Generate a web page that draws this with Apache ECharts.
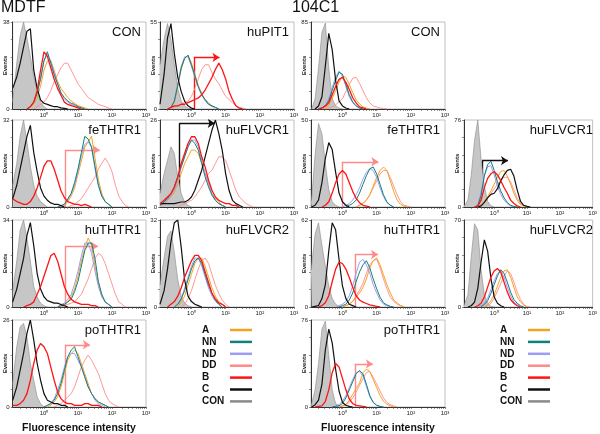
<!DOCTYPE html>
<html><head><meta charset="utf-8">
<script src="https://cdn.jsdelivr.net/npm/echarts@6/dist/echarts.min.js"></script>
<style>html,body{margin:0;padding:0;background:#fff}#c{width:600px;height:434px}</style>
</head><body><div id="c"></div>
<script>
// x values are log10(fluorescence intensity); y values are event counts
const X_LABEL_VALUES = [0, 1, 2, 3];
const X_LABELS = ['10⁰', '10¹', '10²', '10³'];
const SERIES_NAMES = ['A', 'NN', 'ND', 'DD', 'B', 'C', 'CON'];
const PANEL_TITLES = ['CON','huPIT1','CON','feTHTR1','huFLVCR1','feTHTR1','huFLVCR1','huTHTR1','huFLVCR2','huTHTR1','huFLVCR2','poTHTR1','poTHTR1'];
const PANEL_MAX = [38, 55, 85, 32, 26, 50, 76, 34, 32, 62, 70, 26, 76];
// arrows: [start log10 x, end log10 x, height]
const ARROWS = [null, [0.07,0.82,32.6], null, [0.62,1.64,21], [-0.36,0.68,25], [0.0,1.05,26], [-0.37,0.42,40.5], [0.62,1.59,23.7], null, [0.36,1.04,37.4], null, [0.62,1.35,18.6], [0.36,0.89,37.6]];
const ARROW_KIND = [null,'B',null,'DD','C','DD','C','DD',null,'DD',null,'DD','DD'];

// ---- P1 MDTF CON
const p1_CON=[[-0.92,4],[-0.9,6],[-0.8,20],[-0.7,32],[-0.6,38],[-0.5,31],[-0.4,23],[-0.3,14],[-0.2,8],[-0.1,3],[0,1],[0.1,0]];
const p1_C=[[-0.92,9],[-0.8,14],[-0.7,20],[-0.6,27],[-0.5,34],[-0.4,35],[-0.3,17],[-0.2,9],[-0.1,4],[0,2.5],[0.1,2],[0.2,1.5],[0.3,1],[0.4,1],[0.5,0.5],[0.6,0.3],[0.7,0]];
const p1_B=[[-0.5,0],[-0.4,1],[-0.3,3],[-0.2,8],[-0.1,17],[0,25],[0.1,23],[0.2,18],[0.3,13],[0.4,9],[0.5,6],[0.6,3],[0.7,2],[0.8,1.5],[0.9,1],[1.0,0.5],[1.1,0]];
const p1_NN=[[-0.5,0],[-0.4,1],[-0.3,3],[-0.2,7],[-0.1,13],[0,21],[0.1,25],[0.2,20],[0.3,15],[0.4,11],[0.5,7],[0.6,5],[0.7,3.5],[0.8,2.5],[0.9,2],[1.0,1],[1.1,0.5],[1.2,0]];
const p1_ND=[[-0.5,0],[-0.4,1],[-0.3,3],[-0.2,7],[-0.1,14],[0,21],[0.1,24],[0.2,21],[0.3,16],[0.4,11],[0.5,7],[0.6,4.5],[0.7,3],[0.8,2],[0.9,1.5],[1.0,1],[1.1,0.5],[1.2,0]];
const p1_A=[[-0.5,0],[-0.4,1],[-0.3,2],[-0.2,5],[-0.1,10],[0,17],[0.1,21],[0.2,21],[0.3,17],[0.4,12],[0.5,9],[0.6,7],[0.7,5],[0.8,3.5],[0.9,2.5],[1.0,1.5],[1.1,1],[1.2,0.5],[1.3,0]];
const p1_DD=[[-0.3,0],[-0.2,1],[-0.1,2],[0,3],[0.1,5],[0.2,8],[0.3,12],[0.4,15],[0.5,18],[0.6,20],[0.7,20],[0.8,17],[0.9,14],[1.0,11],[1.1,9],[1.2,7],[1.3,5],[1.4,4],[1.5,3],[1.6,2],[1.7,1.5],[1.8,1],[1.9,0.5],[2.0,0]];
// ---- P2 MDTF huPIT1
const p2_CON=[[-0.92,28],[-0.8,44],[-0.7,54],[-0.6,44],[-0.5,28],[-0.4,13],[-0.3,5],[-0.2,2],[-0.1,0.5],[0,0]];
const p2_C=[[-0.92,3],[-0.8,22],[-0.7,45],[-0.6,54],[-0.5,35],[-0.4,20],[-0.3,11],[-0.2,5],[-0.1,2],[0,0.5],[0.1,0]];
const p2_A=[[-0.7,0],[-0.6,1],[-0.5,4],[-0.4,14],[-0.3,25],[-0.2,32],[-0.1,34],[0,29],[0.1,22],[0.2,15],[0.3,10],[0.4,6],[0.5,4],[0.6,2],[0.7,1],[0.8,0]];
const p2_NN=[[-0.7,0],[-0.6,1],[-0.5,5],[-0.4,15],[-0.3,26],[-0.2,32],[-0.1,34],[0,28],[0.1,21],[0.2,14],[0.3,9],[0.4,6],[0.5,3],[0.6,2],[0.7,1],[0.8,0]];
const p2_ND=[[-0.7,0],[-0.6,1],[-0.5,5],[-0.4,16],[-0.3,27],[-0.2,33],[-0.1,33],[0,27],[0.1,20],[0.2,14],[0.3,9],[0.4,5],[0.5,3],[0.6,1.5],[0.7,1],[0.8,0]];
const p2_DD=[[-0.6,0],[-0.5,1],[-0.4,2],[-0.3,3],[-0.2,4],[-0.1,5],[0,8],[0.1,13],[0.2,19],[0.3,25],[0.4,28],[0.5,28],[0.6,23],[0.7,19],[0.8,16],[0.9,12],[1.0,8],[1.1,6],[1.2,4],[1.3,2],[1.4,1],[1.5,0.5],[1.6,0]];
const p2_B=[[-0.7,0],[-0.6,1],[-0.5,2],[-0.4,2],[-0.3,3],[-0.2,3],[-0.1,4],[0,5],[0.1,6],[0.2,7],[0.3,9],[0.4,12],[0.5,16],[0.6,20],[0.7,25],[0.8,29],[0.9,25],[1.0,19],[1.1,11],[1.2,6],[1.3,2],[1.4,0.5],[1.5,0]];
// ---- P3 104C1 CON
const p3_CON=[[-0.9,0],[-0.8,10],[-0.7,40],[-0.6,75],[-0.5,84],[-0.4,40],[-0.3,10],[-0.2,3],[-0.1,1],[0,0]];
const p3_C=[[-0.8,0],[-0.7,3],[-0.6,12],[-0.5,42],[-0.4,74],[-0.3,58],[-0.2,28],[-0.1,8],[0,3],[0.1,1],[0.2,0]];
const p3_NN=[[-0.7,0],[-0.6,1],[-0.5,3],[-0.4,8],[-0.3,18],[-0.2,28],[-0.1,36],[0,34],[0.1,24],[0.2,14],[0.3,7],[0.4,3],[0.5,1],[0.6,0]];
const p3_ND=[[-0.7,0],[-0.6,1],[-0.5,4],[-0.4,10],[-0.3,21],[-0.2,31],[-0.1,37],[0,32],[0.1,22],[0.2,12],[0.3,6],[0.4,3],[0.5,1],[0.6,0]];
const p3_A=[[-0.6,0],[-0.5,1],[-0.4,4],[-0.3,10],[-0.2,18],[-0.1,26],[0,32],[0.1,31],[0.2,24],[0.3,16],[0.4,9],[0.5,5],[0.6,2],[0.7,1],[0.8,0]];
const p3_B=[[-0.7,0],[-0.6,1],[-0.5,3],[-0.4,6],[-0.3,14],[-0.2,22],[-0.1,29],[0,31],[0.1,26],[0.2,19],[0.3,11],[0.4,6],[0.5,2],[0.6,1],[0.7,0]];
const p3_DD=[[-0.5,0],[-0.4,1],[-0.3,2],[-0.2,4],[-0.1,7],[0,10],[0.1,17],[0.2,24],[0.3,30],[0.4,31],[0.5,25],[0.6,18],[0.7,11],[0.8,6],[0.9,3],[1.0,2],[1.1,1],[1.2,0.5],[1.3,0]];
// ---- P4 MDTF feTHTR1
const p4_CON=[[-0.92,8],[-0.8,16],[-0.7,26],[-0.6,32],[-0.5,24],[-0.4,15],[-0.3,8],[-0.2,4],[-0.1,2],[0,1],[0.1,0]];
const p4_C=[[-0.92,3],[-0.8,8],[-0.7,14],[-0.6,20],[-0.5,26],[-0.4,30],[-0.3,20],[-0.2,13],[-0.1,7],[0,4],[0.1,2.5],[0.2,1.5],[0.3,1],[0.4,1],[0.5,0.5],[0.6,0]];
const p4_B=[[-0.92,3],[-0.8,2],[-0.7,1.5],[-0.6,1],[-0.5,1],[-0.4,2],[-0.3,4],[-0.2,7],[-0.1,11],[0,15],[0.1,17],[0.2,17],[0.3,14],[0.4,10],[0.5,6],[0.6,3.5],[0.7,2],[0.8,1.5],[0.9,1],[1.0,1],[1.1,0.5],[1.2,1],[1.3,0.5],[1.4,0]];
const p4_NN=[[0.4,0],[0.5,0.5],[0.6,1],[0.7,3],[0.8,5],[0.9,9],[1.0,14],[1.1,20],[1.2,26],[1.3,25],[1.4,22],[1.5,15],[1.6,8],[1.7,4],[1.8,2],[1.9,1],[2.0,0]];
const p4_ND=[[0.4,0],[0.5,0.5],[0.6,1],[0.7,2.5],[0.8,5],[0.9,8],[1.0,13],[1.1,19],[1.2,23],[1.3,24],[1.4,22],[1.5,14],[1.6,8],[1.7,4],[1.8,2],[1.9,1],[2.0,0]];
const p4_A=[[0.5,0],[0.6,0.5],[0.7,2],[0.8,4],[0.9,7],[1.0,12],[1.1,17],[1.2,22],[1.3,24],[1.4,26],[1.5,18],[1.6,10],[1.7,5],[1.8,2],[1.9,1],[2.0,0]];
const p4_DD=[[0.7,0],[0.8,0.5],[0.9,1],[1.0,2],[1.1,3],[1.2,5],[1.3,7],[1.4,9],[1.5,11],[1.6,14],[1.7,16],[1.8,18],[1.9,16],[2.0,13],[2.1,8],[2.2,4],[2.3,2],[2.4,0.5],[2.5,0]];
// ---- P5 MDTF huFLVCR1
const p5_CON=[[-0.92,4],[-0.8,10],[-0.7,14],[-0.6,18],[-0.5,16],[-0.4,9],[-0.3,4],[-0.2,1.5],[-0.1,0.5],[0,0]];
const p5_C=[[-0.92,1],[-0.5,1],[-0.3,1.5],[-0.2,1.5],[-0.1,2],[0,3],[0.1,5],[0.2,8],[0.3,11],[0.4,15],[0.5,19],[0.6,23],[0.7,26],[0.8,22],[0.9,17],[1.0,10],[1.1,5],[1.2,2],[1.3,1],[1.4,0.5],[1.5,0]];
const p5_B=[[-0.92,1],[-0.8,2],[-0.7,3],[-0.6,4],[-0.5,6],[-0.4,9],[-0.3,13],[-0.2,16],[-0.1,19],[0,21],[0.1,21],[0.2,19],[0.3,15],[0.4,12],[0.5,8],[0.6,5],[0.7,3],[0.8,2],[0.9,1.5],[1.0,1],[1.1,1],[1.2,0.5],[1.3,0.5],[1.4,0]];
const p5_NN=[[-0.92,0.5],[-0.8,1.5],[-0.7,2.5],[-0.6,4],[-0.5,6],[-0.4,9],[-0.3,12],[-0.2,15],[-0.1,18],[0,20],[0.1,19],[0.2,17],[0.3,13],[0.4,9],[0.5,6],[0.6,3.5],[0.7,2],[0.8,1],[0.9,0.5],[1.0,0]];
const p5_ND=[[-0.92,0.5],[-0.8,1],[-0.7,2],[-0.6,3.5],[-0.5,5],[-0.4,8],[-0.3,12],[-0.2,15],[-0.1,18],[0,20],[0.1,20],[0.2,18],[0.3,14],[0.4,10],[0.5,7],[0.6,4],[0.7,2],[0.8,1],[0.9,0.5],[1.0,0]];
const p5_A=[[-0.92,0.5],[-0.8,1],[-0.7,2],[-0.6,3],[-0.5,4.5],[-0.4,7],[-0.3,10],[-0.2,13],[-0.1,15],[0,17],[0.1,17],[0.2,16],[0.3,13],[0.4,10],[0.5,7],[0.6,4],[0.7,2.5],[0.8,1.5],[0.9,0.5],[1.0,0]];
const p5_DD=[[-0.4,0],[-0.3,0.5],[-0.2,1],[-0.1,1.5],[0,2],[0.1,3],[0.2,4.5],[0.3,6],[0.4,8],[0.5,10],[0.6,11],[0.7,13],[0.8,15],[0.9,15],[1.0,14],[1.1,11],[1.2,8],[1.3,5],[1.4,3],[1.5,2],[1.6,1],[1.7,0.5],[1.8,0]];
// ---- P6 104C1 feTHTR1
const p6_CON=[[-0.92,3],[-0.9,5],[-0.8,30],[-0.7,48],[-0.6,42],[-0.5,25],[-0.4,10],[-0.3,3],[-0.2,1],[-0.1,0]];
const p6_C=[[-0.9,0],[-0.8,1],[-0.7,4],[-0.6,14],[-0.5,28],[-0.4,37],[-0.3,33],[-0.2,20],[-0.1,8],[0,3],[0.1,1],[0.2,0]];
const p6_B=[[-0.6,0],[-0.5,1],[-0.4,3],[-0.3,8],[-0.2,14],[-0.1,19],[0,21],[0.1,19],[0.2,14],[0.3,9],[0.4,5],[0.5,2.5],[0.6,1],[0.7,0.5],[0.8,0]];
const p6_NN=[[0.1,0],[0.2,1],[0.3,2],[0.4,4],[0.5,8],[0.6,13],[0.7,18],[0.8,22],[0.9,23],[1.0,19],[1.1,13],[1.2,7],[1.3,3],[1.4,1],[1.5,0]];
const p6_ND=[[0,0],[0.1,1],[0.2,2],[0.3,4],[0.4,7],[0.5,11],[0.6,16],[0.7,20],[0.8,22],[0.9,21],[1.0,17],[1.1,11],[1.2,6],[1.3,2.5],[1.4,1],[1.5,0]];
const p6_A=[[0.4,0],[0.5,1],[0.6,2],[0.7,4],[0.8,7],[0.9,12],[1.0,17],[1.1,21],[1.2,23],[1.3,21],[1.4,15],[1.5,9],[1.6,4],[1.7,1.5],[1.8,0.5],[1.9,0]];
const p6_DD=[[0.4,0],[0.5,1],[0.6,2],[0.7,4],[0.8,7],[0.9,11],[1.0,15],[1.1,19],[1.2,21],[1.3,21],[1.4,17],[1.5,12],[1.6,7],[1.7,3],[1.8,1],[1.9,0.5],[2.0,0]];
// ---- P7 104C1 huFLVCR1
const p7_CON=[[-0.92,0.5],[-0.8,6],[-0.7,28],[-0.6,58],[-0.5,76],[-0.4,42],[-0.3,18],[-0.2,5],[-0.1,1],[0,0]];
const p7_C=[[-0.5,0],[-0.4,1],[-0.3,4],[-0.2,8],[-0.1,11],[0,12],[0.1,16],[0.2,23],[0.3,28],[0.4,32],[0.5,33],[0.6,27],[0.7,15],[0.8,5],[0.9,1.5],[1.0,0.5],[1.1,0]];
const p7_NN=[[-0.6,0],[-0.5,1],[-0.4,10],[-0.3,27],[-0.2,37],[-0.1,40],[0,32],[0.1,22],[0.2,14],[0.3,8],[0.4,4],[0.5,1.5],[0.6,0.5],[0.7,0]];
const p7_ND=[[-0.6,0],[-0.5,2],[-0.4,13],[-0.3,28],[-0.2,35],[-0.1,36],[0,28],[0.1,18],[0.2,11],[0.3,6],[0.4,3],[0.5,1],[0.6,0]];
const p7_B=[[-0.6,0],[-0.5,1],[-0.4,6],[-0.3,17],[-0.2,25],[-0.1,29],[0,31],[0.1,28],[0.2,23],[0.3,17],[0.4,12],[0.5,6],[0.6,3],[0.7,1],[0.8,0]];
const p7_A=[[-0.5,0],[-0.4,2],[-0.3,5],[-0.2,9],[-0.1,14],[0,20],[0.1,26],[0.2,31],[0.3,32],[0.4,27],[0.5,20],[0.6,12],[0.7,6],[0.8,2],[0.9,1],[1.0,0]];
const p7_DD=[[-0.5,0],[-0.4,1],[-0.3,4],[-0.2,8],[-0.1,12],[0,16],[0.1,20],[0.2,23],[0.3,26],[0.4,26],[0.5,22],[0.6,15],[0.7,8],[0.8,3],[0.9,1],[1.0,0]];
// ---- P8 MDTF huTHTR1
const p8_CON=[[-0.92,6],[-0.8,18],[-0.7,30],[-0.6,34],[-0.5,27],[-0.4,18],[-0.3,8],[-0.2,4],[-0.1,1.5],[0,0.5],[0.1,0]];
const p8_C=[[-0.92,2],[-0.8,7],[-0.7,13],[-0.6,19],[-0.5,28],[-0.4,33],[-0.3,24],[-0.2,13],[-0.1,7],[0,4],[0.1,2.5],[0.2,2],[0.3,1.5],[0.4,1.5],[0.5,1],[0.6,0.5],[0.7,0]];
const p8_B=[[-0.6,0],[-0.5,0.5],[-0.4,1],[-0.3,2],[-0.2,5],[-0.1,8],[0,12],[0.1,16],[0.2,20],[0.3,21],[0.4,18],[0.5,13],[0.6,8],[0.7,5],[0.8,3],[0.9,2],[1.0,1.5],[1.1,1],[1.2,1],[1.3,1],[1.4,0.5],[1.5,0.5],[1.6,0]];
const p8_A=[[0.4,0],[0.5,0.5],[0.6,1],[0.7,2],[0.8,4],[0.9,7],[1.0,12],[1.1,18],[1.2,23],[1.3,27],[1.4,24],[1.5,16],[1.6,9],[1.7,4],[1.8,2],[1.9,1],[2.0,0]];
const p8_NN=[[0.4,0],[0.5,0.5],[0.6,1],[0.7,2],[0.8,3],[0.9,6],[1.0,10],[1.1,16],[1.2,22],[1.3,25],[1.4,25],[1.5,19],[1.6,10],[1.7,5],[1.8,2],[1.9,1],[2.0,0]];
const p8_ND=[[0.4,0],[0.5,1],[0.6,1.5],[0.7,3],[0.8,5],[0.9,9],[1.0,14],[1.1,20],[1.2,25],[1.3,25],[1.4,21],[1.5,14],[1.6,8],[1.7,4],[1.8,2],[1.9,1],[2.0,0]];
const p8_DD=[[0.5,0],[0.6,0.5],[0.7,1],[0.8,1.5],[0.9,2],[1.0,3.5],[1.1,5],[1.2,8],[1.3,11],[1.4,15],[1.5,19],[1.6,21],[1.7,20],[1.8,17],[1.9,13],[2.0,9],[2.1,5],[2.2,2],[2.3,1],[2.4,0]];
// ---- P9 MDTF huFLVCR2
const p9_CON=[[-0.92,8],[-0.8,18],[-0.7,26],[-0.6,28],[-0.5,20],[-0.4,10],[-0.3,4],[-0.2,1.5],[-0.1,0.5],[0,0]];
const p9_C=[[-0.92,1],[-0.8,6],[-0.7,14],[-0.6,24],[-0.5,31],[-0.4,32],[-0.3,22],[-0.2,10],[-0.1,4],[0,2],[0.1,1],[0.2,0.5],[0.3,0]];
const p9_B=[[-0.7,0],[-0.6,1],[-0.5,2],[-0.4,4],[-0.3,7],[-0.2,11],[-0.1,14],[0,17],[0.1,19],[0.2,19],[0.3,17],[0.4,13],[0.5,9],[0.6,5],[0.7,3],[0.8,1.5],[0.9,1],[1.0,0]];
const p9_NN=[[-0.5,0],[-0.4,1],[-0.3,3],[-0.2,6],[-0.1,10],[0,14],[0.1,17],[0.2,18],[0.3,16],[0.4,12],[0.5,8],[0.6,5],[0.7,2.5],[0.8,1],[0.9,0]];
const p9_ND=[[-0.5,0],[-0.4,1],[-0.3,3],[-0.2,7],[-0.1,11],[0,15],[0.1,18],[0.2,18],[0.3,15],[0.4,11],[0.5,7],[0.6,4],[0.7,2],[0.8,1],[0.9,0]];
const p9_A=[[-0.4,0],[-0.3,2],[-0.2,4],[-0.1,8],[0,12],[0.1,16],[0.2,18],[0.3,18],[0.4,15],[0.5,11],[0.6,7],[0.7,4],[0.8,2],[0.9,1],[1.0,0]];
const p9_DD=[[-0.3,0],[-0.2,1],[-0.1,3],[0,6],[0.1,10],[0.2,14],[0.3,17],[0.4,18],[0.5,16],[0.6,12],[0.7,8],[0.8,5],[0.9,2.5],[1.0,1],[1.1,0]];
// ---- P10 104C1 huTHTR1
const p10_CON=[[-0.92,26],[-0.9,30],[-0.8,52],[-0.7,60],[-0.6,44],[-0.5,29],[-0.4,15],[-0.3,6],[-0.2,2],[-0.1,0.5],[0,0]];
const p10_C=[[-0.9,0],[-0.8,0.5],[-0.7,1],[-0.6,6],[-0.5,16],[-0.4,40],[-0.3,60],[-0.2,55],[-0.1,34],[0,15],[0.1,6],[0.2,2],[0.3,1],[0.4,0]];
const p10_B=[[-0.7,0],[-0.6,1],[-0.5,3],[-0.4,8],[-0.3,18],[-0.2,27],[-0.1,32],[0,31],[0.1,27],[0.2,21],[0.3,14],[0.4,8],[0.5,5],[0.6,3.5],[0.7,2.5],[0.8,1.5],[0.9,1],[1.0,0.5],[1.1,0]];
const p10_NN=[[-0.1,0],[0,1],[0.1,2],[0.2,5],[0.3,10],[0.4,18],[0.5,25],[0.6,30],[0.7,33],[0.8,28],[0.9,20],[1.0,13],[1.1,7],[1.2,3],[1.3,1.5],[1.4,0.5],[1.5,0]];
const p10_ND=[[-0.2,0],[-0.1,1],[0,2],[0.1,4],[0.2,8],[0.3,15],[0.4,24],[0.5,32],[0.6,34],[0.7,30],[0.8,24],[0.9,16],[1.0,10],[1.1,5],[1.2,2],[1.3,1],[1.4,0]];
const p10_A=[[0,0],[0.1,1],[0.2,2],[0.3,4],[0.4,7],[0.5,10],[0.6,14],[0.7,20],[0.8,28],[0.9,33],[1.0,35],[1.1,30],[1.2,23],[1.3,16],[1.4,10],[1.5,5],[1.6,3],[1.7,1],[1.8,0]];
const p10_DD=[[0,0],[0.1,1],[0.2,2],[0.3,4],[0.4,8],[0.5,12],[0.6,17],[0.7,24],[0.8,30],[0.9,33],[1.0,34],[1.1,28],[1.2,20],[1.3,13],[1.4,7],[1.5,4],[1.6,2],[1.7,1],[1.8,0]];
// ---- P11 104C1 huFLVCR2
const p11_CON=[[-0.92,1],[-0.8,10],[-0.7,40],[-0.6,67],[-0.5,62],[-0.4,30],[-0.3,10],[-0.2,3],[-0.1,0.5],[0,0]];
const p11_C=[[-0.8,0],[-0.7,1],[-0.6,4],[-0.5,15],[-0.4,36],[-0.3,54],[-0.2,45],[-0.1,23],[0,8],[0.1,3],[0.2,1],[0.3,0]];
const p11_B=[[-0.6,0],[-0.5,1],[-0.4,3],[-0.3,8],[-0.2,16],[-0.1,24],[0,29],[0.1,31],[0.2,28],[0.3,20],[0.4,12],[0.5,6],[0.6,3],[0.7,1],[0.8,0]];
const p11_NN=[[-0.4,0],[-0.3,2],[-0.2,5],[-0.1,11],[0,18],[0.1,25],[0.2,30],[0.3,27],[0.4,20],[0.5,12],[0.6,6],[0.7,3],[0.8,1],[0.9,0]];
const p11_ND=[[-0.5,0],[-0.4,1],[-0.3,3],[-0.2,7],[-0.1,14],[0,21],[0.1,27],[0.2,29],[0.3,24],[0.4,16],[0.5,9],[0.6,4],[0.7,2],[0.8,0.5],[0.9,0]];
const p11_A=[[-0.3,0],[-0.2,2],[-0.1,5],[0,10],[0.1,17],[0.2,24],[0.3,29],[0.4,30],[0.5,24],[0.6,16],[0.7,8],[0.8,4],[0.9,1.5],[1.0,0]];
const p11_DD=[[-0.3,0],[-0.2,1],[-0.1,3],[0,7],[0.1,13],[0.2,19],[0.3,25],[0.4,29],[0.5,27],[0.6,20],[0.7,12],[0.8,6],[0.9,2],[1.0,0.5],[1.1,0]];
// ---- P12 MDTF poTHTR1
const p12_CON=[[-0.92,7],[-0.9,9],[-0.8,18],[-0.7,24],[-0.6,25],[-0.5,21],[-0.4,13],[-0.3,8],[-0.2,3],[-0.1,1],[0,0]];
const p12_C=[[-0.92,2],[-0.8,6],[-0.7,11],[-0.6,16],[-0.5,22],[-0.4,26],[-0.3,20],[-0.2,13],[-0.1,8],[0,4],[0.1,2],[0.2,1.5],[0.3,1],[0.4,1],[0.5,0.5],[0.6,0.5],[0.7,0]];
const p12_B=[[-0.92,0.5],[-0.8,0.5],[-0.7,1],[-0.6,2],[-0.5,4],[-0.4,8],[-0.3,13],[-0.2,17],[-0.1,19],[0,18],[0.1,16],[0.2,12],[0.3,8],[0.4,4.5],[0.5,2.5],[0.6,1.5],[0.7,1],[0.8,1],[0.9,0.5],[1.0,0.5],[1.1,0.5],[1.2,1],[1.3,1],[1.4,0.5],[1.5,0.5],[1.6,0.5],[1.7,0]];
const p12_NN=[[0,0],[0.1,0.5],[0.2,1],[0.3,2],[0.4,4],[0.5,7],[0.6,11],[0.7,15],[0.8,17],[0.9,18],[1.0,15],[1.1,12],[1.2,9],[1.3,6],[1.4,4],[1.5,2.5],[1.6,1.5],[1.7,1],[1.8,0.5],[1.9,0]];
const p12_ND=[[0,0],[0.1,0.5],[0.2,1],[0.3,2.5],[0.4,5],[0.5,8],[0.6,12],[0.7,15],[0.8,16],[0.9,16],[1.0,14],[1.1,12],[1.2,9],[1.3,6],[1.4,4],[1.5,2],[1.6,1],[1.7,0.5],[1.8,0]];
const p12_A=[[0.1,0],[0.2,0.5],[0.3,1.5],[0.4,3],[0.5,6],[0.6,10],[0.7,14],[0.8,16],[0.9,17],[1.0,16],[1.1,13],[1.2,10],[1.3,7],[1.4,4],[1.5,2.5],[1.6,1.5],[1.7,1],[1.8,0.5],[1.9,0]];
const p12_DD=[[0.3,0],[0.4,0.5],[0.5,1],[0.6,2],[0.7,3],[0.8,4],[0.9,6],[1.0,9],[1.1,12],[1.2,14],[1.3,15.5],[1.4,14],[1.5,12],[1.6,10],[1.7,7],[1.8,4],[1.9,2],[2.0,1],[2.1,0.5],[2.2,0]];
// ---- P13 104C1 poTHTR1
const p13_CON=[[-0.92,1],[-0.9,3],[-0.8,15],[-0.7,38],[-0.6,68],[-0.5,75],[-0.4,45],[-0.3,15],[-0.2,3],[-0.1,1],[0,0]];
const p13_C=[[-0.9,0],[-0.8,2],[-0.7,6],[-0.6,20],[-0.5,50],[-0.4,68],[-0.3,56],[-0.2,33],[-0.1,14],[0,4],[0.1,1.5],[0.2,0.5],[0.3,0]];
const p13_B=[[-0.8,0],[-0.7,0.5],[-0.6,1],[-0.5,5],[-0.4,15],[-0.3,30],[-0.2,38],[-0.1,35],[0,25],[0.1,15],[0.2,7],[0.3,3],[0.4,1.5],[0.5,1],[0.6,0.5],[0.7,0]];
const p13_NN=[[-0.3,0],[-0.2,0.5],[-0.1,1],[0,3],[0.1,8],[0.2,15],[0.3,22],[0.4,29],[0.5,32],[0.6,29],[0.7,20],[0.8,10],[0.9,4],[1.0,1.5],[1.1,0.5],[1.2,0]];
const p13_ND=[[-0.3,0],[-0.2,1],[-0.1,2],[0,5],[0.1,10],[0.2,17],[0.3,24],[0.4,30],[0.5,31],[0.6,27],[0.7,18],[0.8,9],[0.9,4],[1.0,1.5],[1.1,0.5],[1.2,0]];
const p13_A=[[-0.1,0],[0,1],[0.1,2],[0.2,6],[0.3,11],[0.4,16],[0.5,21],[0.6,30],[0.7,33],[0.8,31],[0.9,24],[1.0,17],[1.1,10],[1.2,5],[1.3,2.5],[1.4,1],[1.5,0]];
const p13_DD=[[-0.1,0],[0,1],[0.1,2],[0.2,4],[0.3,8],[0.4,13],[0.5,19],[0.6,25],[0.7,30],[0.8,31],[0.9,26],[1.0,20],[1.1,14],[1.2,8],[1.3,4],[1.4,2],[1.5,1],[1.6,0]];

const PANEL_DATA = [
  {CON:p1_CON,DD:p1_DD,A:p1_A,ND:p1_ND,NN:p1_NN,C:p1_C,B:p1_B},
  {CON:p2_CON,DD:p2_DD,A:p2_A,ND:p2_ND,NN:p2_NN,C:p2_C,B:p2_B},
  {CON:p3_CON,DD:p3_DD,A:p3_A,ND:p3_ND,NN:p3_NN,C:p3_C,B:p3_B},
  {CON:p4_CON,DD:p4_DD,A:p4_A,ND:p4_ND,NN:p4_NN,C:p4_C,B:p4_B},
  {CON:p5_CON,DD:p5_DD,A:p5_A,ND:p5_ND,NN:p5_NN,C:p5_C,B:p5_B},
  {CON:p6_CON,DD:p6_DD,A:p6_A,ND:p6_ND,NN:p6_NN,C:p6_C,B:p6_B},
  {CON:p7_CON,DD:p7_DD,A:p7_A,ND:p7_ND,NN:p7_NN,C:p7_C,B:p7_B},
  {CON:p8_CON,DD:p8_DD,A:p8_A,ND:p8_ND,NN:p8_NN,C:p8_C,B:p8_B},
  {CON:p9_CON,DD:p9_DD,A:p9_A,ND:p9_ND,NN:p9_NN,C:p9_C,B:p9_B},
  {CON:p10_CON,DD:p10_DD,A:p10_A,ND:p10_ND,NN:p10_NN,C:p10_C,B:p10_B},
  {CON:p11_CON,DD:p11_DD,A:p11_A,ND:p11_ND,NN:p11_NN,C:p11_C,B:p11_B},
  {CON:p12_CON,DD:p12_DD,A:p12_A,ND:p12_ND,NN:p12_NN,C:p12_C,B:p12_B},
  {CON:p13_CON,DD:p13_DD,A:p13_A,ND:p13_ND,NN:p13_NN,C:p13_C,B:p13_B}
];

// ---- layout & styles
const X_MIN = -0.92, X_MAX = 3;
const COL_X = [12, 160, 311, 464];
const ROW_Y = [22, 120, 220, 320];
const CELL = [[0,0],[1,0],[2,0],[0,1],[1,1],[2,1],[3,1],[0,2],[1,2],[2,2],[3,2],[0,3],[2,3]];
const GW = 134, GH = 87;
const COLORS = {A:'#f5a31f', NN:'#12807a', ND:'#9d9df5', DD:'#ff8a8a', B:'#ff1414', C:'#111111', CON:'#8a8a8a'};
const WIDTHS = {A:1, NN:1, ND:1, DD:0.9, B:1.3, C:1.2, CON:0.6};
const DRAW_ORDER = ['CON','DD','A','ND','NN','C','B'];
const FONT = '"Liberation Sans", Arial, Helvetica, sans-serif';

const xTicks = [];
for (let n = -1; n <= 2; n++) for (let k = 1; k <= 9; k++) { const v = n + Math.log10(k); if (v >= X_MIN && v <= X_MAX) xTicks.push(v); }
xTicks.push(3);

const grids = [], xAxes = [], yAxes = [], series = [], graphics = [];
CELL.forEach(([c, r], i) => {
  const left = COL_X[c], top = ROW_Y[r], M = PANEL_MAX[i];
  grids.push({left, top, width: GW, height: GH, show: true, borderColor: '#b0b0b0', borderWidth: 0.8, backgroundColor: 'transparent'});
  xAxes.push({type: 'value', gridIndex: i, min: X_MIN, max: X_MAX,
    axisLine: {show: true, onZero: false, lineStyle: {color: '#333', width: 1}},
    axisTick: {show: true, customValues: xTicks, length: 2, lineStyle: {color: '#444', width: 0.6}},
    axisLabel: {customValues: X_LABEL_VALUES, formatter: v => X_LABELS[X_LABEL_VALUES.indexOf(Math.round(v))], fontSize: 6, margin: 3, color: '#222', fontFamily: FONT},
    splitLine: {show: false}});
  yAxes.push({type: 'value', gridIndex: i, min: 0, max: M,
    axisLine: {show: true, onZero: false, lineStyle: {color: '#333', width: 1}},
    axisTick: {show: true, customValues: [0, M*0.2, M*0.4, M*0.6, M*0.8, M], length: 2, lineStyle: {color: '#444', width: 0.6}},
    axisLabel: {customValues: [0, M], fontSize: 6, margin: 3, color: '#222', fontFamily: FONT},
    splitLine: {show: false},
    name: 'Events', nameLocation: 'middle', nameGap: 4, nameMoveOverlap: false,
    nameTextStyle: {fontSize: 6, fontWeight: 'bold', color: '#222', fontFamily: FONT}});
  DRAW_ORDER.forEach(name => {
    const s = {type: 'line', name, xAxisIndex: i, yAxisIndex: i, data: PANEL_DATA[i][name],
      symbol: 'none', showSymbol: false, silent: true, animation: false,
      lineStyle: {color: COLORS[name], width: WIDTHS[name]}, itemStyle: {color: COLORS[name]}};
    if (name === 'CON') s.areaStyle = {color: '#c6c6c6', opacity: 1};
    series.push(s);
  });
  const a = ARROWS[i];
  if (a) {
    const col = COLORS[ARROW_KIND[i]];
    series.push({type: 'lines', coordinateSystem: 'cartesian2d', xAxisIndex: i, yAxisIndex: i,
      symbol: ['none', 'arrow'], symbolSize: [0, 7], silent: true, animation: false,
      lineStyle: {color: col, width: 1.4, opacity: 1},
      data: [{coords: [[a[0], 0], [a[0], a[2]]], symbol: ['none', 'none']},
             {coords: [[a[0], a[2]], [a[1], a[2]]]}]});
  }
  graphics.push({type: 'text', right: 600 - (left + GW) + 5, top: top + 4,
    style: {text: PANEL_TITLES[i], font: '13px ' + FONT, fill: '#111'}});
});

graphics.push({type: 'text', left: 1, top: 0, style: {text: 'MDTF', font: '16px ' + FONT, fill: '#111'}});
graphics.push({type: 'text', left: 292, top: 0, style: {text: '104C1', font: '16px ' + FONT, fill: '#111'}});
[[COL_X[0] + GW/2, 428], [COL_X[2] + GW/2, 428]].forEach(([cx, cy]) => {
  graphics.push({type: 'text', x: cx, y: cy, style: {text: 'Fluorescence intensity', font: 'bold 10.5px ' + FONT, fill: '#111', align: 'center', verticalAlign: 'middle'}});
});
[[202, 330], [500, 330]].forEach(([lx, ly]) => {
  SERIES_NAMES.forEach((nm, k) => {
    const y = ly + k * 11.9;
    graphics.push({type: 'text', x: lx, y, style: {text: nm, font: 'bold 10px ' + FONT, fill: '#111', verticalAlign: 'middle'}});
    graphics.push({type: 'line', shape: {x1: lx + 28, y1: y, x2: lx + 50, y2: y}, style: {stroke: COLORS[nm], lineWidth: 2.5}});
  });
});

const chart = echarts.init(document.getElementById('c'), null, {renderer: 'canvas'});
chart.setOption({animation: false, grid: grids, xAxis: xAxes, yAxis: yAxes, series, graphic: graphics});
</script></body></html>
